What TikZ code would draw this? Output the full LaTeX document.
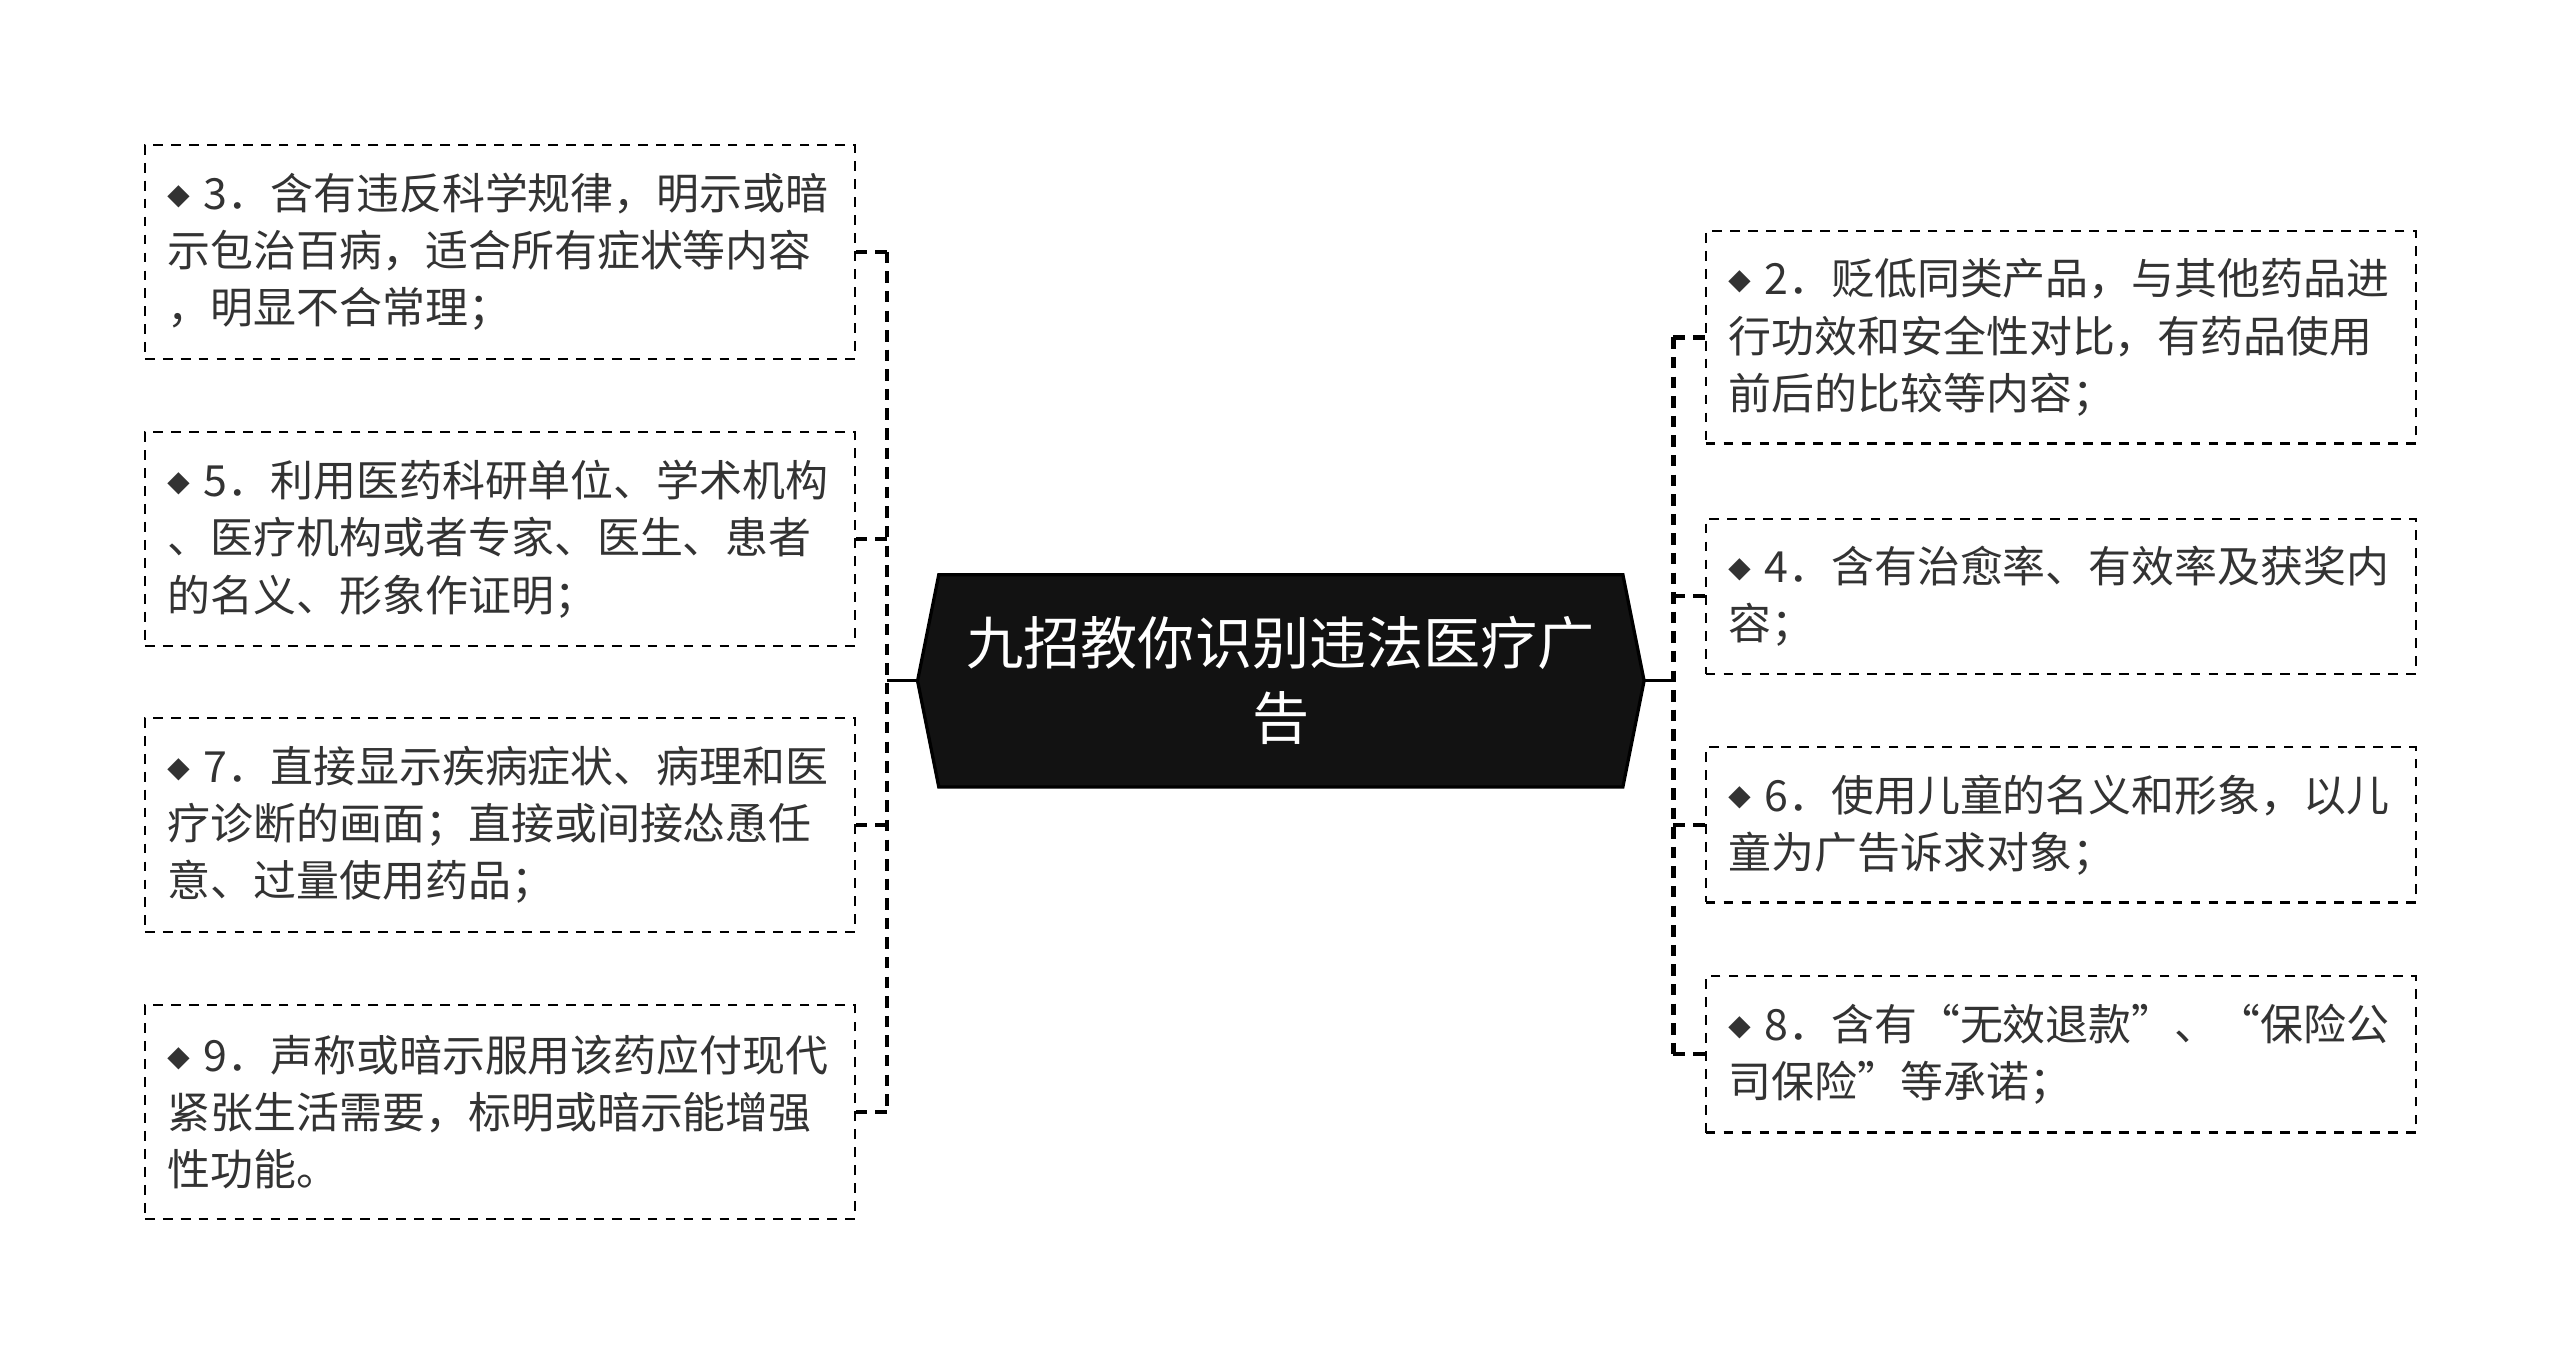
\documentclass[tikz,border=0pt]{standalone}
\usepackage{fontspec}
\setmainfont{Noto Sans CJK SC}
\newcommand\mybul{\raisebox{2.5pt}{\fontsize{14}{14}\selectfont ◆}\hspace{8pt}}
\begin{document}
\begin{tikzpicture}[x=1pt,y=-1pt,
  box/.style={draw=black, line width=1.4pt, dash pattern=on 6pt off 5pt,
    anchor=north west, minimum width=435pt, text width=407pt,
    inner xsep=14pt, inner ysep=0pt, align=left,
    font=\fontsize{26.3}{35}\selectfont, text=black!80},
  trunk/.style={draw=black, line width=2.5pt, dash pattern=on 7pt off 5pt},
  tick/.style={draw=black, line width=2.5pt, dash pattern=on 7pt off 5pt},
  link/.style={draw=black, line width=2pt},
  hexa/.style={fill=black!93, draw=black, line width=2pt, line join=miter},
  ctext/.style={text=white, align=center, font=\fontsize{35}{46}\selectfont}]
\useasboundingbox (0,0) rectangle (1568,834);

% centre
\coordinate (cl) at (562,417);
\coordinate (cr) at (1007,417);
\draw[hexa] (cl) -- (575,352) -- (994,352) -- (cr) -- (994,482) -- (575,482) -- cycle;
\node[ctext] (c) at (784.5,417) {九招教你识别违法医疗广\\告};

% left boxes
\node[box, minimum height=131pt] (l3) at (88,88)
  {\mybul 3．含有违反科学规律，明示或暗\\示包治百病，适合所有症状等内容\\，明显不合常理；};
\node[box, minimum height=131pt] (l5) at (88,264)
  {\mybul 5．利用医药科研单位、学术机构\\、医疗机构或者专家、医生、患者\\的名义、形象作证明；};
\node[box, minimum height=131pt] (l7) at (88,439)
  {\mybul 7．直接显示疾病症状、病理和医\\疗诊断的画面；直接或间接怂恿任\\意、过量使用药品；};
\node[box, minimum height=131pt] (l9) at (88,615)
  {\mybul 9．声称或暗示服用该药应付现代\\紧张生活需要，标明或暗示能增强\\性功能。};

% right boxes
\node[box, minimum height=130pt] (r2) at (1044,141)
  {\mybul 2．贬低同类产品，与其他药品进\\行功效和安全性对比，有药品使用\\前后的比较等内容；};
\node[box, minimum height=95pt] (r4) at (1044,317)
  {\mybul 4．含有治愈率、有效率及获奖内\\容；};
\node[box, minimum height=95pt] (r6) at (1044,457)
  {\mybul 6．使用儿童的名义和形象，以儿\\童为广告诉求对象；};
\node[box, minimum height=96pt] (r8) at (1044,597)
  {\mybul 8．含有“无效退款”、“保险公\\司保险”等承诺；};

% connectors
\coordinate (lt) at (543,417);
\coordinate (rt) at (1025,417);
\draw[link] (cl) -- (lt);
\draw[link] (cr) -- (rt);
\draw[trunk] (l3.east -| lt) -- (l9.east -| lt);
\draw[trunk] (r2.west -| rt) -- (r8.west -| rt);
\foreach \b in {l3,l5,l7,l9} \draw[tick] (\b.east -| lt) -- (\b.east);
\foreach \b in {r2,r4,r6,r8} \draw[tick] (\b.west -| rt) -- (\b.west);
\end{tikzpicture}
\end{document}
